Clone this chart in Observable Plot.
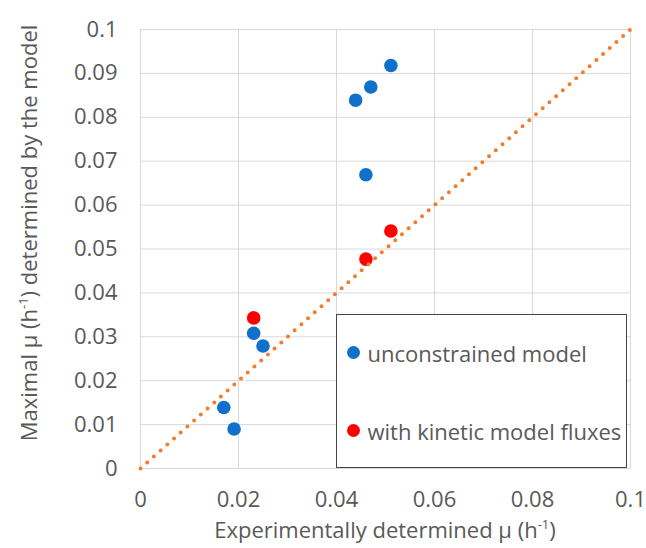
<!DOCTYPE html>
<html>
<head>
<meta charset="utf-8">
<script src="https://cdn.jsdelivr.net/npm/d3@7"></script>
<script src="https://cdn.jsdelivr.net/npm/@observablehq/plot@0.6"></script>
<style>
  html, body { margin: 0; padding: 0; background: #fff; }
  #wrap { position: relative; width: 646px; height: 548px; font-family: "Open Sans", sans-serif; color: #595959; }
  .ov { position: absolute; white-space: nowrap; font-size: 22px; line-height: 22px; }
  .sup { font-size: 13px; position: relative; top: -9px; }
  #legend { position: absolute; left: 336px; top: 314px; width: 289px; height: 152px; border: 1.5px solid #444; background: #fff; box-sizing: content-box; }
  .lg { position: absolute; left: 0; font-size: 22px; line-height: 22px; white-space: nowrap; }
  .mk { position: absolute; width: 13px; height: 13px; border-radius: 50%; }
</style>
</head>
<body>
<div id="wrap"></div>
<script>
// ---- data ----
const blueX = [0.0511, 0.0470, 0.0439, 0.0460, 0.0231, 0.0250, 0.0170, 0.0191];
const blueY = [0.0918, 0.0869, 0.0839, 0.0669, 0.0308, 0.0279, 0.0139, 0.0090];
const redX = [0.0231, 0.0460, 0.0511];
const redY = [0.0343, 0.0477, 0.0541];
const diagX = [0, 0.1];
const diagY = [0, 0.1];
const xTicks = [0, 0.02, 0.04, 0.06, 0.08, 0.1];
const yTicks = [0, 0.01, 0.02, 0.03, 0.04, 0.05, 0.06, 0.07, 0.08, 0.09, 0.1];
const seriesNames = ["unconstrained model", "with kinetic model fluxes"];
const xTitle = "Experimentally determined μ (h";
const yTitleA = "Maximal μ (h";
const yTitleB = ") determined by the model";

const BLUE = "#1170CC", RED = "#FF0000", ORANGE = "#F47B2A";

const blue = blueX.map((x, i) => ({x, y: blueY[i]}));
const red = redX.map((x, i) => ({x, y: redY[i]}));
const diag = diagX.map((x, i) => ({x, y: diagY[i]}));

const fmt = d => String(d);

const chart = Plot.plot({
  width: 646,
  height: 548,
  marginLeft: 140,
  marginRight: 16,
  marginTop: 29,
  marginBottom: 80,
  style: {fontFamily: "Open Sans, sans-serif", fontSize: "22px", color: "#595959", background: "white"},
  x: {domain: [0, 0.1]},
  y: {domain: [0, 0.1]},
  marks: [
    Plot.gridX(xTicks, {stroke: "#d9d9d9", strokeOpacity: 1, strokeWidth: 1}),
    Plot.gridY(yTicks, {stroke: "#d9d9d9", strokeOpacity: 1, strokeWidth: 1}),
    Plot.axisX({ticks: xTicks, tickSize: 0, tickPadding: 23, label: null, tickFormat: fmt}),
    Plot.axisY({ticks: yTicks, tickSize: 0, tickPadding: 23, label: null, tickFormat: fmt}),
    Plot.dot(blue, {x: "x", y: "y", r: 6.8, fill: BLUE, stroke: "none"}),
    Plot.dot(red, {x: "x", y: "y", r: 6.8, fill: RED, stroke: "none"}),
    Plot.line(diag, {x: "x", y: "y", stroke: ORANGE, strokeWidth: 4, strokeDasharray: "0 9", strokeLinecap: "round"})
  ]
});

const wrap = document.getElementById("wrap");
wrap.appendChild(chart);

// x title
const xt = document.createElement("div");
xt.className = "ov";
xt.innerHTML = `${xTitle}<span class="sup">-1</span>)`;
xt.style.left = "385px";
xt.style.top = "518px";
xt.style.transform = "translateX(-50%)";
wrap.appendChild(xt);

// y title
const yt = document.createElement("div");
yt.className = "ov";
yt.innerHTML = `${yTitleA}<span class="sup">-1</span>${yTitleB}`;
yt.style.left = "29.5px";
yt.style.top = "233px";
yt.style.transform = "translate(-50%,-50%) rotate(-90deg)";
wrap.appendChild(yt);

// legend
const lg = document.createElement("div");
lg.id = "legend";
const colors = [BLUE, RED];
const cy = [39, 117];
seriesNames.forEach((name, i) => {
  const m = document.createElement("div");
  m.className = "mk";
  m.style.background = colors[i];
  m.style.left = (18 - 6.5 - 1.5) + "px";
  m.style.top = (cy[i] - 6.5 - 1.5) + "px";
  lg.appendChild(m);
  const t = document.createElement("div");
  t.className = "lg";
  t.textContent = name;
  t.style.left = (32 - 1.5) + "px";
  t.style.top = (cy[i] - 12.5) + "px";
  lg.appendChild(t);
});
wrap.appendChild(lg);
</script>
</body>
</html>
